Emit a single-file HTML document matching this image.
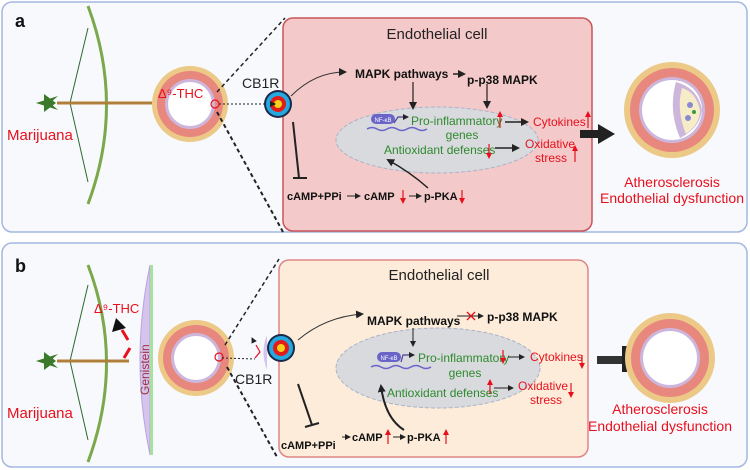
<!DOCTYPE html>
<html><head><meta charset="utf-8"><style>
body{margin:0;background:#fff}
svg{display:block;font-family:"Liberation Sans",sans-serif}
.b{font-weight:bold;fill:#111}
.r{fill:#e8101c}
.g{fill:#2e8a2e}
</style></head><body>
<svg width="750" height="470" viewBox="0 0 750 470" xmlns="http://www.w3.org/2000/svg">
<defs>
<marker id="ah" markerWidth="8" markerHeight="8" refX="6" refY="4" orient="auto" markerUnits="userSpaceOnUse"><path d="M0,0 L8,4 L0,8z" fill="#222"/></marker>
<marker id="ahs" markerWidth="6" markerHeight="6" refX="5" refY="3" orient="auto" markerUnits="userSpaceOnUse"><path d="M0,0 L6,3 L0,6z" fill="#222"/></marker>
<marker id="ahr" markerWidth="6" markerHeight="6" refX="3" refY="3" orient="auto" markerUnits="userSpaceOnUse"><path d="M0,0 L6,3 L0,6z" fill="#e8101c"/></marker>
<g id="vessel">
<circle r="38" fill="#ecc987"/>
<circle r="33" fill="#e8877d"/>
<circle r="25" fill="#cdb6dc"/>
<circle r="22" fill="#fff"/>
</g>
<g id="target">
<circle r="14" fill="#1b2a4a"/><circle r="12" fill="#25a7e0"/><circle r="8" fill="#e21b1b"/><circle r="4" fill="#f2d21a"/>
</g>
</defs>
<rect x="2" y="2" width="745" height="230" rx="10" fill="#f7f9fd" stroke="#a4b7df" stroke-width="1.5"/>
<rect x="2" y="243" width="745" height="224" rx="10" fill="#f7f9fd" stroke="#a4b7df" stroke-width="1.5"/>

<!-- PANEL A -->
<text x="15" y="27" font-size="18" class="b">a</text>
<path d="M88,6 Q125,105 88,204" fill="none" stroke="#7aa84a" stroke-width="3"/>
<path d="M88,28 L70,103 L88,182" fill="none" stroke="#2d6a2d" stroke-width="1"/>
<line x1="57" y1="103" x2="198" y2="103" stroke="#b0803a" stroke-width="3"/>
<path d="M196,96 L214,103 L196,110z" fill="#111"/>
<path d="M36,103 L58,96 L50,103 L58,110z M44,94 L56,103 L44,112z" fill="#3a7a2a"/>
<text x="7" y="140" font-size="15" class="r">Marijuana</text>
<use href="#vessel" x="190" y="104"/>
<text x="158" y="98" font-size="13" class="r">Δ⁹-THC</text>
<circle cx="215" cy="104" r="4" fill="none" stroke="#e8101c" stroke-width="1.2"/>
<line x1="219" y1="104" x2="266" y2="104" stroke="#222" stroke-dasharray="2,2"/>
<line x1="217" y1="92" x2="285" y2="18" stroke="#222" stroke-width="1.5" stroke-dasharray="4,3"/>
<line x1="217" y1="112" x2="283" y2="232" stroke="#222" stroke-width="2" stroke-dasharray="4,3"/>
<rect x="283" y="18" width="309" height="213" rx="10" fill="#f4c9c9" stroke="#c9555a" stroke-width="1.5"/>
<text x="242" y="88" font-size="14" fill="#222">CB1R</text>
<use href="#target" x="278" y="104"/>
<path d="M272,104 L275,104" stroke="#111" stroke-width="2" marker-end="url(#ahs)"/>
<text x="437" y="39" font-size="15" fill="#222" text-anchor="middle">Endothelial cell</text>
<path d="M291,96 Q315,72 345,72" fill="none" stroke="#333" stroke-width="1" marker-end="url(#ah)"/>
<text x="355" y="78" font-size="12" class="b">MAPK pathways</text>
<path d="M453,74 L464,74" stroke="#222" stroke-width="1.5" marker-end="url(#ah)"/>
<text x="467" y="84" font-size="12" class="b">p-p38 MAPK</text>
<ellipse cx="437" cy="140" rx="101" ry="33" fill="#d9dade" stroke="#a9b3c8" stroke-dasharray="4,2"/>
<path d="M413,82 L413,108" stroke="#222" stroke-width="1.2" marker-end="url(#ah)"/>
<path d="M487,84 L487,107" stroke="#222" stroke-width="1.2" marker-end="url(#ah)"/>
<rect x="371" y="114" width="24" height="10" rx="5" fill="#6a63c8"/>
<text x="383" y="122" font-size="6" fill="#fff" text-anchor="middle">NF-κB</text>
<path d="M367,129 Q372,126 377,129 T387,129 T397,129 T407,129 T417,129 T427,129" fill="none" stroke="#6a63c8" stroke-width="1.5"/>
<path d="M394,123 L398,117 L408,117" fill="none" stroke="#4a3f9a" stroke-width="1.2" marker-end="url(#ahs)"/>
<text x="411" y="125" font-size="12" class="g">Pro-inflammatory</text>
<text x="462" y="139" font-size="12" class="g" text-anchor="middle">genes</text>
<path d="M500,128 L500,114" stroke="#e8101c" stroke-width="1.2" marker-end="url(#ahr)"/>
<path d="M505,122 L527,122" stroke="#222" stroke-width="1.5" marker-end="url(#ah)"/>
<text x="533" y="126" font-size="12" class="r">Cytokines</text>
<path d="M588,128 L588,114" stroke="#e8101c" stroke-width="1.2" marker-end="url(#ahr)"/>
<text x="384" y="154" font-size="12" class="g">Antioxidant defenses</text>
<path d="M489,144 L489,156" stroke="#e8101c" stroke-width="1.2" marker-end="url(#ahr)"/>
<path d="M495,148 L518,148" stroke="#222" stroke-width="1.5" marker-end="url(#ah)"/>
<text x="525" y="148" font-size="12" class="r">Oxidative</text>
<text x="535" y="162" font-size="12" class="r">stress</text>
<path d="M575,162 L575,148" stroke="#e8101c" stroke-width="1.2" marker-end="url(#ahr)"/>
<path d="M293,122 L299,178" stroke="#222" stroke-width="2"/>
<path d="M293,178 L307,178" stroke="#222" stroke-width="2"/>
<text x="287" y="200" font-size="11" class="b">cAMP+PPi</text>
<path d="M347,196 L360,196" stroke="#222" stroke-width="1" marker-end="url(#ahs)"/>
<text x="364" y="200" font-size="11" class="b">cAMP</text>
<path d="M403,190 L403,201" stroke="#e8101c" stroke-width="1.2" marker-end="url(#ahr)"/>
<path d="M409,196 L421,196" stroke="#222" stroke-width="1" marker-end="url(#ahs)"/>
<text x="424" y="200" font-size="11" class="b">p-PKA</text>
<path d="M462,190 L462,201" stroke="#e8101c" stroke-width="1.2" marker-end="url(#ahr)"/>
<path d="M428,188 Q410,172 388,160" fill="none" stroke="#222" stroke-width="1.5" marker-end="url(#ah)"/>
<path d="M580,130 L598,130 L598,124 L615,134 L598,144 L598,138 L580,138z" fill="#222"/>
<circle cx="672" cy="110" r="48" fill="#ecc987"/>
<circle cx="672" cy="110" r="42" fill="#e8877d"/>
<circle cx="672" cy="110" r="33" fill="#cdb6dc"/>
<circle cx="672" cy="110" r="30" fill="#fff"/>
<path d="M676,82 Q668,110 680,138 Q700,128 702,110 Q698,88 676,82z" fill="#cdb6dc"/>
<path d="M682,88 Q676,110 686,134 Q700,124 700,110 Q696,92 682,88z" fill="#f7ecc8"/>
<circle cx="690" cy="105" r="3" fill="#8a8ad0"/><circle cx="688" cy="118" r="3" fill="#8a8ad0"/><circle cx="694" cy="112" r="2" fill="#3a9a3a"/>
<text x="672" y="187" font-size="14" class="r" text-anchor="middle">Atherosclerosis</text>
<text x="672" y="203" font-size="14" class="r" text-anchor="middle">Endothelial dysfunction</text>

<!-- PANEL B -->
<text x="15" y="272" font-size="18" class="b">b</text>
<path d="M88,265 Q125,362 88,462" fill="none" stroke="#7aa84a" stroke-width="3"/>
<path d="M88,285 L70,361 L88,440" fill="none" stroke="#2d6a2d" stroke-width="1"/>
<line x1="57" y1="361" x2="129" y2="361" stroke="#b0803a" stroke-width="3"/>
<path d="M36,361 L58,354 L50,361 L58,368z M44,352 L56,361 L44,370z" fill="#3a7a2a"/>
<text x="7" y="418" font-size="15" class="r">Marijuana</text>
<path d="M124,358 L130,348 M128,340 L122,330" stroke="#e8101c" stroke-width="3"/>
<path d="M112,332 L116,318 L126,328z" fill="#111"/>
<text x="94" y="313" font-size="13" class="r">Δ⁹-THC</text>
<path d="M150,265 Q130,360 150,455 Z" fill="#d5c4ee" stroke="#b9a5dc"/>
<path d="M150,265 L153,265 L153,455 L150,455z" fill="#a8e0a0"/>
<text transform="translate(149,395) rotate(-90)" font-size="12" fill="#a0303a">Genistein</text>
<use href="#vessel" x="196" y="358"/>
<circle cx="219" cy="357" r="4" fill="none" stroke="#e8101c" stroke-width="1.2"/>
<line x1="222" y1="358" x2="255" y2="359" stroke="#222" stroke-dasharray="2,2"/>
<path d="M255,358 L260,352 L256,345" fill="none" stroke="#e8101c" stroke-width="1.2"/>
<path d="M254,342 L252,338" stroke="#111" stroke-width="1" marker-end="url(#ahs)"/>
<path d="M267,335 Q260,352 267,370z" fill="#d5c4ee"/>
<line x1="225" y1="345" x2="279" y2="259" stroke="#222" stroke-width="1.5" stroke-dasharray="4,3"/>
<line x1="227" y1="367" x2="277" y2="457" stroke="#222" stroke-width="2" stroke-dasharray="4,3"/>
<rect x="279" y="260" width="309" height="197" rx="10" fill="#fcecd9" stroke="#de8686" stroke-width="1.5"/>
<text x="235" y="384" font-size="14" fill="#222">CB1R</text>
<use href="#target" x="281" y="348"/>
<text x="439" y="280" font-size="15" fill="#222" text-anchor="middle">Endothelial cell</text>
<path d="M298,340 Q325,317 362,314" fill="none" stroke="#333" stroke-width="1" marker-end="url(#ah)"/>
<text x="367" y="325" font-size="12" class="b">MAPK pathways</text>
<path d="M457,316 L483,316" stroke="#222" stroke-width="1" marker-end="url(#ahs)"/>
<path d="M467,312 L475,320 M475,312 L467,320" stroke="#e8101c" stroke-width="1.3"/>
<text x="487" y="321" font-size="12" class="b">p-p38 MAPK</text>
<ellipse cx="438" cy="368" rx="102" ry="40" fill="#d9dade" stroke="#a9b3c8" stroke-dasharray="4,2"/>
<path d="M413,328 L413,346" stroke="#222" stroke-width="1" marker-end="url(#ahs)"/>
<rect x="377" y="352" width="24" height="10" rx="5" fill="#6a63c8"/>
<text x="389" y="360" font-size="6" fill="#fff" text-anchor="middle">NF-κB</text>
<path d="M371,367 Q376,364 381,367 T391,367 T401,367 T411,367 T421,367 T431,367" fill="none" stroke="#6a63c8" stroke-width="1.5"/>
<path d="M401,362 L403,355 L414,355" fill="none" stroke="#4a3f9a" stroke-width="1.2" marker-end="url(#ahs)"/>
<text x="418" y="362" font-size="12" class="g">Pro-inflammatory</text>
<text x="465" y="377" font-size="12" class="g" text-anchor="middle">genes</text>
<path d="M503,350 L503,361" stroke="#e8101c" stroke-width="1.2" marker-end="url(#ahr)"/>
<path d="M508,357 L524,357" stroke="#222" stroke-width="1" marker-end="url(#ahs)"/>
<text x="530" y="361" font-size="12" class="r">Cytokines</text>
<path d="M582,355 L582,366" stroke="#e8101c" stroke-width="1.2" marker-end="url(#ahr)"/>
<text x="387" y="397" font-size="12" class="g">Antioxidant defenses</text>
<path d="M490,394 L490,382" stroke="#e8101c" stroke-width="1.2" marker-end="url(#ahr)"/>
<path d="M494,388 L513,388" stroke="#222" stroke-width="1" marker-end="url(#ahs)"/>
<text x="518" y="390" font-size="12" class="r">Oxidative</text>
<text x="530" y="404" font-size="12" class="r">stress</text>
<path d="M571,383 L571,395" stroke="#e8101c" stroke-width="1.2" marker-end="url(#ahr)"/>
<path d="M298,384 L312,425" stroke="#222" stroke-width="2"/>
<path d="M305,427 L319,423" stroke="#222" stroke-width="2"/>
<text x="281" y="449" font-size="11" class="b">cAMP+PPi</text>
<path d="M342,437 L350,437" stroke="#222" stroke-width="1" marker-end="url(#ahs)"/>
<text x="352" y="441" font-size="11" class="b">cAMP</text>
<path d="M388,444 L388,432" stroke="#e8101c" stroke-width="1.2" marker-end="url(#ahr)"/>
<path d="M393,437 L405,437" stroke="#222" stroke-width="1" marker-end="url(#ahs)"/>
<text x="407" y="441" font-size="11" class="b">p-PKA</text>
<path d="M446,444 L446,432" stroke="#e8101c" stroke-width="1.2" marker-end="url(#ahr)"/>
<path d="M404,430 Q385,418 381,386" fill="none" stroke="#222" stroke-width="2" marker-end="url(#ah)"/>
<path d="M597,356 L624,356 L624,364 L597,364z" fill="#333"/>
<rect x="622" y="346" width="5" height="26" fill="#222"/>
<circle cx="670" cy="358" r="45" fill="#ecc987"/>
<circle cx="670" cy="358" r="39" fill="#e8877d"/>
<circle cx="670" cy="358" r="30" fill="#cdb6dc"/>
<circle cx="670" cy="358" r="27" fill="#fff"/>
<text x="660" y="414" font-size="14" class="r" text-anchor="middle">Atherosclerosis</text>
<text x="660" y="431" font-size="14" class="r" text-anchor="middle">Endothelial dysfunction</text>
</svg>
</body></html>
